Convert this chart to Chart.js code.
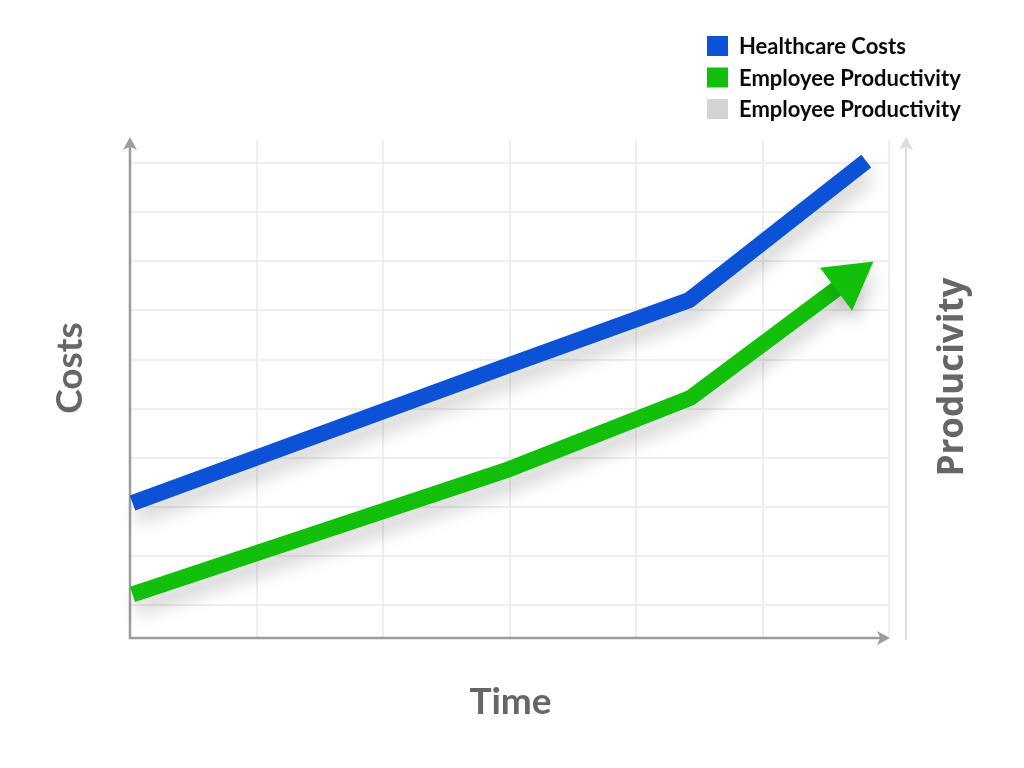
<!DOCTYPE html>
<html lang="en">
<head>
  <meta charset="UTF-8">
  <title>Healthcare Costs vs Employee Productivity</title>
  <style>
    html, body {
      margin: 0;
      padding: 0;
      background: #ffffff;
    }
    #chart {
      display: block;
    }
  </style>
</head>
<body>
  <canvas id="chart" width="1024" height="768"></canvas>

  <script src="https://cdn.jsdelivr.net/npm/chart.js"></script>
  <script>
    // series data (time in grid units, value in grid units)
    const seriesLabels = ['Healthcare Costs', 'Employee Productivity', 'Employee Productivity'];
    const seriesColors = ['#0b52d6', '#12c00c', '#d4d4d4'];
    const costTime = [0.02, 3, 4.42, 5.82];
    const healthcareCosts = [2.08, 4.89, 6.21, 9.04];
    const productivityTime = [0.02, 3, 4.43, 5.68];
    const productivity = [0.22, 2.77, 4.22, 6.62];
    const xTitle = 'Time';
    const yTitle = 'Costs';
    const y2Title = 'Producivity';

    function toPoints(xs, ys) {
      return xs.map((x, i) => ({ x: x, y: ys[i] }));
    }

    const lastIdx = productivity.length - 1;

    // direction of the last green segment, so the arrow head follows the line
    function arrowRotation(ctx) {
      const xs = ctx.chart.scales.x;
      const ys = ctx.chart.scales.y;
      if (!xs || !ys) return 0;
      const dx = xs.getPixelForValue(productivityTime[lastIdx]) - xs.getPixelForValue(productivityTime[lastIdx - 1]);
      const dy = ys.getPixelForValue(productivity[lastIdx]) - ys.getPixelForValue(productivity[lastIdx - 1]);
      return Math.atan2(dy, dx) * 180 / Math.PI + 90;
    }

    function arrowHead(ctx, x, y, angle, len, half) {
      ctx.save();
      ctx.translate(x, y);
      ctx.rotate(angle);
      ctx.beginPath();
      ctx.moveTo(0, 0);
      ctx.lineTo(-len, -half);
      ctx.lineTo(-len * 0.75, 0);
      ctx.lineTo(-len, half);
      ctx.closePath();
      ctx.fill();
      ctx.restore();
    }

    const axesPlugin = {
      id: 'axesPlugin',
      beforeDatasetsDraw(chart) {
        const ctx = chart.ctx;
        const a = chart.chartArea;
        ctx.save();
        // right (productivity) axis, light
        ctx.strokeStyle = '#dcdcdc';
        ctx.fillStyle = '#dcdcdc';
        ctx.lineWidth = 2;
        ctx.beginPath();
        ctx.moveTo(a.right + 17, a.bottom + 2);
        ctx.lineTo(a.right + 17, a.top + 4);
        ctx.stroke();
        arrowHead(ctx, a.right + 17, a.top - 3, -Math.PI / 2, 13, 7);

        // main axes
        ctx.strokeStyle = '#9c9c9c';
        ctx.fillStyle = '#9c9c9c';
        ctx.lineWidth = 2.5;
        ctx.beginPath();
        ctx.moveTo(a.left, a.top + 4);
        ctx.lineTo(a.left, a.bottom);
        ctx.lineTo(a.right - 4, a.bottom);
        ctx.stroke();
        arrowHead(ctx, a.left, a.top - 3, -Math.PI / 2, 13, 7);
        arrowHead(ctx, a.right + 1, a.bottom, 0, 13, 7);
        ctx.restore();

        // soft shadow under the lines
        ctx.save();
        ctx.shadowColor = 'rgba(0, 0, 0, 0.18)';
        ctx.shadowBlur = 18;
        ctx.shadowOffsetX = 3;
        ctx.shadowOffsetY = 13;
      },
      afterDatasetsDraw(chart) {
        chart.ctx.restore();
      },
      afterDraw(chart) {
        const ctx = chart.ctx;
        const a = chart.chartArea;
        ctx.save();
        ctx.fillStyle = '#666666';
        ctx.textAlign = 'center';
        ctx.textBaseline = 'alphabetic';

        ctx.font = 'bold 37px Lato';
        ctx.fillText(xTitle, (a.left + a.right) / 2 + 1, a.bottom + 76);

        ctx.save();
        ctx.translate(a.left - 48, (a.top + a.bottom) / 2 - 21);
        ctx.rotate(-Math.PI / 2);
        ctx.fillText(yTitle, 0, 0);
        ctx.restore();

        ctx.save();
        ctx.font = 'bold 35px "Open Sans"';
        ctx.translate(a.right + 74, (a.top + a.bottom) / 2 - 12);
        ctx.rotate(-Math.PI / 2);
        ctx.fillText(y2Title, 0, 0);
        ctx.restore();

        // legend, stacked at top right
        ctx.font = 'bold 22px Lato';
        ctx.textAlign = 'left';
        chart.data.datasets.forEach((ds, i) => {
          const top = 36 + i * 31.5;
          ctx.fillStyle = ds.backgroundColor;
          ctx.fillRect(707, top, 21, 20);
          ctx.fillStyle = '#0a0a0a';
          ctx.fillText(ds.label, 739, top + 18);
        });
        ctx.restore();
      }
    };

    new Chart(document.getElementById('chart'), {
      type: 'line',
      data: {
        datasets: [
          {
            label: seriesLabels[0],
            data: toPoints(costTime, healthcareCosts),
            borderColor: seriesColors[0],
            backgroundColor: seriesColors[0],
            borderWidth: 16,
            borderCapStyle: 'butt',
            borderJoinStyle: 'round',
            pointRadius: 0,
            tension: 0,
            clip: false
          },
          {
            label: seriesLabels[1],
            data: toPoints(productivityTime, productivity),
            borderColor: seriesColors[1],
            backgroundColor: seriesColors[1],
            borderWidth: 16,
            borderCapStyle: 'butt',
            borderJoinStyle: 'round',
            pointStyle: 'triangle',
            pointRadius: ctx => ctx.dataIndex === lastIdx ? 31 : 0,
            pointRotation: arrowRotation,
            pointBackgroundColor: seriesColors[1],
            pointBorderWidth: 0,
            tension: 0,
            clip: false
          },
          {
            label: seriesLabels[2],
            data: [],
            borderColor: seriesColors[2],
            backgroundColor: seriesColors[2]
          }
        ]
      },
      options: {
        responsive: false,
        animation: false,
        events: [],
        layout: {
          padding: { left: 130, top: 140, right: 135, bottom: 130 }
        },
        plugins: {
          legend: { display: false },
          tooltip: { enabled: false }
        },
        scales: {
          x: {
            type: 'linear',
            min: 0,
            max: 6,
            ticks: { display: false, stepSize: 1 },
            grid: { color: '#eeeeee', lineWidth: 2, drawTicks: false },
            border: { display: false }
          },
          y: {
            type: 'linear',
            min: -0.67,
            max: 9.47,
            ticks: { display: false, stepSize: 1 },
            grid: {
              color: ctx => Math.abs(ctx.tick.value - Math.round(ctx.tick.value)) < 1e-6 ? '#eeeeee' : 'rgba(0,0,0,0)',
              lineWidth: 2,
              drawTicks: false
            },
            border: { display: false }
          }
        }
      },
      plugins: [axesPlugin]
    });
  </script>
</body>
</html>
